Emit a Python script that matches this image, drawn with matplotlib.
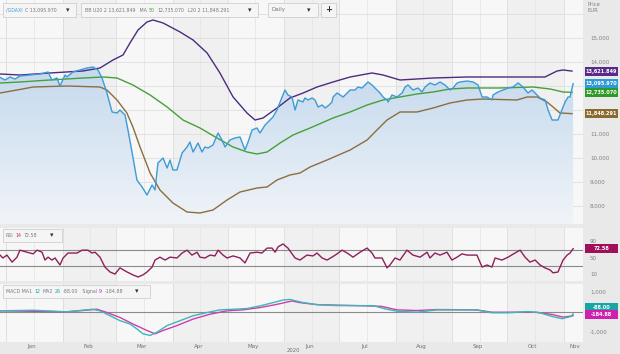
import matplotlib
matplotlib.use('Agg')
import matplotlib.pyplot as plt
import numpy as np
from matplotlib.patches import Polygon, Rectangle
from matplotlib.colors import LinearSegmentedColormap
from matplotlib.transforms import blended_transform_factory

W, H = 620, 354

# x values are days since 1 Jan 2020
price_day = [-3.5, -0.8, 2.0, 4.7, 7.4, 12.9, 18.4, 22.8, 24.9, 27.7, 29.3, 32.1, 33.1, 36.4,
             40.3, 44.1, 47.4, 50.1, 52.3, 55.0, 57.8, 60.5, 62.1, 64.9, 66.5, 69.2, 71.4, 74.2,
             76.9, 79.7, 81.3, 82.9, 85.7, 87.9, 89.5, 91.1, 93.3, 96.1, 98.8, 100.4, 102.1,
             104.8, 107.0, 108.6, 110.3, 113.0, 115.8, 117.9, 119.6, 122.3, 125.0, 127.8, 130.5,
             132.2, 134.4, 137.1, 138.7, 141.5, 144.2, 145.8, 148.0, 150.8, 152.4, 154.0, 156.2,
             157.9, 159.5, 162.2, 163.3, 165.0, 167.2, 168.8, 170.5, 172.7, 174.4, 176.5, 178.1,
             178.7, 180.9, 182.6, 184.2, 186.4, 188.0, 190.7, 192.3, 194.5, 196.2, 197.8, 200.0,
             201.6, 204.4, 206.0, 208.2, 208.8, 210.9, 213.7, 216.4, 218.1, 219.7, 222.4, 225.2,
             227.3, 229.0, 231.7, 234.4, 237.2, 239.9, 242.7, 244.3, 246.5, 248.2, 252.0, 255.3,
             258.0, 260.2, 262.9, 265.6, 266.2, 268.9, 271.6, 274.4, 277.1, 279.9, 282.6, 285.3,
             287.5, 290.3, 291.9, 294.7, 296.3, 298.5, 300.1, 301.7, 303.9, 305.6, 307.2, 308.3,
             310.0]
price_val = [13360, 13250, 13375, 13290, 13417, 13458, 13500, 13583, 13250, 13333, 13000, 13458,
             13375, 13583, 13667, 13750, 13792, 13667, 13333, 12708, 11917, 11875, 12000, 11792,
             11167, 10042, 9083, 8792, 8458, 8875, 8667, 9792, 10000, 9583, 9917, 9500, 9500,
             10208, 10458, 10667, 10250, 10625, 10250, 10458, 10417, 10542, 11042, 10750, 10458,
             10750, 10833, 10875, 10333, 10667, 11167, 11250, 11042, 11375, 11583, 11708, 12000,
             12542, 12833, 12625, 12542, 12000, 12417, 12333, 12500, 12417, 12500, 12417, 12125,
             12208, 12083, 12208, 12333, 12542, 12708, 12625, 12542, 12708, 12833, 12833, 12958,
             12917, 13042, 13167, 13042, 12917, 12708, 12542, 12417, 12333, 12625, 12542, 12708,
             12958, 13042, 12833, 12917, 12750, 12958, 13125, 13042, 13167, 13042, 12833, 12917,
             13125, 13167, 13208, 13167, 13042, 12542, 12542, 12417, 12625, 12750, 12833, 12917,
             12958, 13125, 12958, 12708, 12833, 12625, 12500, 12417, 12000, 11583, 11583, 11583,
             12000, 12333, 12542, 12542, 13096]

upper_day = [-3.5, 7.4, 23.8, 41.9, 51.2, 58.3, 63.8, 67.6, 72.0, 76.9, 80.2, 85.7, 95.0, 102.1,
             109.8, 116.8, 124.0, 131.6, 136.0, 140.4, 148.0, 155.1, 162.3, 169.9, 178.7, 188.0,
             200.0, 206.0, 215.3, 224.6, 233.4, 252.0, 270.0, 288.1, 294.6, 301.2, 304.5, 309.4]
upper_val = [13500, 13458, 13542, 13625, 13750, 14083, 14292, 14792, 15333, 15667, 15750, 15625,
             15250, 14917, 14375, 13542, 12542, 11875, 11583, 11667, 12083, 12500, 12708, 12958,
             13167, 13375, 13542, 13458, 13250, 13292, 13333, 13375, 13375, 13375, 13375, 13625,
             13667, 13622]

ma_day = [-3.5, 7.4, 23.8, 41.9, 52.8, 60.5, 69.2, 78.6, 87.9, 96.6, 105.9, 115.2, 124.0, 131.6,
          137.1, 142.6, 149.7, 156.8, 166.1, 169.9, 178.7, 188.0, 197.3, 206.0, 215.3, 224.6,
          233.4, 242.7, 252.0, 270.0, 288.1, 297.4, 304.5, 309.4]
ma_val = [13125, 13167, 13250, 13333, 13375, 13333, 13042, 12625, 12125, 11583, 11250, 10833,
          10458, 10250, 10167, 10250, 10625, 10958, 11250, 11375, 11667, 11917, 12208, 12417,
          12542, 12667, 12750, 12875, 12917, 12917, 12958, 12875, 12750, 12735]

lower_day = [-3.5, 5.8, 14.6, 33.1, 51.2, 55.0, 60.5, 65.9, 69.2, 73.1, 78.6, 84.0, 91.1, 98.8,
             105.9, 113.0, 120.7, 127.8, 137.1, 142.6, 148.0, 155.1, 160.6, 166.1, 175.4, 188.0,
             197.3, 202.7, 208.2, 215.3, 224.6, 233.4, 242.7, 252.0, 260.7, 279.3, 284.8, 290.3,
             295.7, 299.0, 302.8, 309.4]
lower_val = [12708, 12833, 12958, 13000, 12958, 12833, 12417, 11875, 11292, 10458, 9375, 8667,
             8125, 7750, 7708, 7833, 8250, 8583, 8750, 8792, 9083, 9292, 9375, 9625, 9917, 10333,
             10750, 11167, 11583, 11917, 11917, 12083, 12292, 12417, 12458, 12417, 12542, 12542,
             12333, 12125, 11875, 11848]

rsi_day = [-3.5, -1.9, 0.3, 3.1, 5.8, 7.4, 11.3, 14.6, 16.8, 19.5, 21.1, 22.8, 24.9, 26.6, 29.3,
           31.0, 33.7, 38.6, 41.4, 44.6, 46.8, 48.5, 51.2, 53.9, 56.7, 59.4, 62.1, 66.0, 69.2,
           72.0, 74.7, 76.9, 79.7, 81.3, 84.0, 86.8, 89.5, 93.3, 96.1, 98.8, 101.5, 104.3, 105.9,
           108.6, 111.4, 114.1, 115.8, 118.5, 120.7, 124.0, 127.8, 130.5, 133.3, 137.1, 139.8,
           142.6, 145.3, 147.0, 148.6, 151.3, 154.0, 157.9, 160.6, 164.4, 167.7, 169.9, 172.7,
           175.4, 178.1, 180.9, 183.6, 186.4, 189.6, 193.4, 197.3, 200.0, 201.6, 205.5, 208.2,
           209.8, 212.6, 215.3, 219.1, 222.4, 226.3, 230.1, 231.7, 234.4, 237.2, 241.0, 243.7,
           246.5, 249.2, 252.0, 257.4, 260.2, 262.9, 265.6, 267.3, 271.1, 274.4, 278.2, 281.0,
           283.7, 286.4, 289.2, 291.9, 294.6, 297.4, 299.0, 301.7, 304.5, 306.7, 308.3, 310.0]
rsi_val = [57, 50, 57, 40, 52, 69, 64, 60, 69, 64, 45, 52, 45, 50, 33, 50, 62, 62, 69, 69, 62, 64,
           52, 28, 16, 11, 26, 16, 9, 4, 9, 16, 28, 45, 52, 45, 52, 50, 62, 69, 57, 64, 52, 50,
           57, 55, 69, 57, 50, 55, 50, 38, 62, 64, 62, 74, 74, 64, 77, 84, 74, 50, 45, 57, 55, 62,
           50, 45, 52, 60, 69, 62, 52, 64, 74, 62, 50, 50, 26, 33, 50, 45, 69, 57, 52, 64, 50, 62,
           57, 64, 45, 52, 60, 57, 57, 28, 33, 28, 50, 45, 52, 62, 69, 52, 40, 45, 33, 26, 21, 14,
           16, 45, 57, 62, 72.58]

macd_day = [-3.5, 14.6, 33.1, 47.4, 51.2, 56.7, 62.1, 67.6, 71.4, 74.7, 78.6, 82.4, 87.9, 95.0,
            102.1, 109.8, 116.8, 124.0, 131.6, 138.7, 145.8, 151.3, 155.1, 161.7, 169.9, 180.9,
            191.8, 200.6, 207.1, 213.7, 224.6, 235.6, 245.9, 256.9, 265.6, 274.4, 285.3, 291.9,
            298.5, 303.9, 308.9, 310.0]
macd_val = [59, 88, 10, 137, 59, -185, -429, -595, -839, -1083, -1161, -1000, -673, -429, -185,
            -24, 107, 137, 171, 303, 464, 595, 625, 478, 366, 317, 317, 317, 156, 39, -10, 107,
            107, 107, -39, -39, 24, -39, -220, -332, -220, -88]

signal_day = [-3.5, 33.1, 49.6, 55.0, 62.1, 69.2, 76.9, 81.3, 85.7, 93.3, 102.1, 111.4, 120.7,
              129.4, 138.7, 148.0, 156.2, 160.6, 169.9, 191.8, 205.0, 213.7, 224.6, 235.6, 256.9,
              265.6, 278.7, 289.7, 298.5, 304.5, 310.0]
signal_val = [59, 10, 137, -24, -268, -595, -917, -1083, -917, -673, -351, -107, 59, 107, 220,
              381, 547, 464, 366, 317, 283, 107, 73, 122, 107, -10, -10, -10, -122, -254, -185]

month_names = ['Jan', 'Feb', 'Mar', 'Apr', 'May', 'Jun', 'Jul', 'Aug', 'Sep', 'Oct', 'Nov']
month_label_day = [14, 45, 74, 105, 135, 166, 196, 227, 258, 288, 311]
month_start_day = [0, 31, 60, 91, 121, 152, 182, 213, 244, 274, 305]

price_ticks = [8000, 9000, 10000, 11000, 14000, 15000]
price_grid = [8000, 9000, 10000, 11000, 12000, 13000, 14000, 15000, 16000]
rsi_ticks = [10, 50, 90]
rsi_levels = [30, 70]
macd_ticks = [-1000, 1000]

c_price = '#3d9bd6'
c_upper = '#4b2c80'
c_ma = '#45a03a'
c_lower = '#8c6d3f'
c_rsi = '#8e1f5a'
c_macd = '#3fb5b5'
c_signal = '#cc3fb0'


def fx(x):
    return x / W


def fy(y):
    return 1 - y / H


fig = plt.figure(figsize=(6.2, 3.54), dpi=100, facecolor='#e9e9e9')
renderer = fig.canvas.get_renderer()


def panel(top, bottom):
    return fig.add_axes([0, fy(bottom), 583 / W, (bottom - top) / H])


ax = panel(0, 224)
ax_rsi = panel(228, 281)
ax_macd = panel(284, 342)

xlim = (-3.5, 315.4)
ylim_price = (7250, 16583)
ax.set_ylim(*ylim_price)
ax_rsi.set_ylim(-5.8, 122.7)
ax_macd.set_ylim(-1488, 1390)

for a in (ax, ax_rsi, ax_macd):
    a.set_facecolor('#f7f7f7')
    for i, d in enumerate(month_start_day):
        if i % 2 == 1:
            end = month_start_day[i + 1] if i + 1 < len(month_start_day) else xlim[1]
            a.axvspan(d, end, color='#f0f0f0', lw=0, zorder=0)
    for d in month_start_day:
        a.axvline(d, color='#dcdcdc', lw=0.6, zorder=0.5)
        a.axvline(d + 15, color='#e4e4e4', lw=0.5, zorder=0.5)
    a.set_xlim(*xlim)
    a.set_xticks([])
    a.yaxis.tick_right()
    a.tick_params(axis='y', length=0, labelsize=4.0, labelcolor='#808080', pad=5)
    for s in a.spines.values():
        s.set_visible(False)

# price panel
ax.set_yticks(price_ticks)
ax.set_yticklabels(['{:,}'.format(v) for v in price_ticks])
for v in price_grid:
    ax.axhline(v, color='#dedede', lw=0.6, zorder=0.5)

poly = np.column_stack([[price_day[0]] + price_day + [price_day[-1]],
                        [ylim_price[0]] + price_val + [ylim_price[0]]])
patch = Polygon(poly, closed=True, fc='none', ec='none')
ax.add_patch(patch)
cmap = LinearSegmentedColormap.from_list('fill', ['#f0f4f8', '#c4d9ed'])
grad = np.linspace(0, 1, 256).reshape(-1, 1)
im = ax.imshow(grad, extent=[xlim[0], xlim[1], ylim_price[0], 13900], origin='lower',
               cmap=cmap, aspect='auto', zorder=1)
im.set_clip_path(patch)
ax.set_xlim(*xlim)
ax.set_ylim(*ylim_price)

ax.plot(upper_day, upper_val, color=c_upper, lw=1.0, zorder=3)
ax.plot(ma_day, ma_val, color=c_ma, lw=1.0, zorder=3)
ax.plot(lower_day, lower_val, color=c_lower, lw=1.0, zorder=3)
ax.plot(price_day, price_val, color=c_price, lw=1.0, zorder=4)

# rsi panel
ax_rsi.set_yticks(rsi_ticks)
ax_rsi.set_yticklabels([str(v) for v in rsi_ticks])
for v in rsi_levels:
    ax_rsi.axhline(v, color='#8a8a8a', lw=0.8, zorder=2)
ax_rsi.plot(rsi_day, rsi_val, color=c_rsi, lw=1.0, zorder=3)

# macd panel
ax_macd.set_yticks(macd_ticks)
ax_macd.set_yticklabels(['{:,}'.format(v) for v in macd_ticks])
ax_macd.axhline(0, color='#8a8a8a', lw=0.8, zorder=2)
ax_macd.plot(signal_day, signal_val, color=c_signal, lw=1.0, zorder=3)
ax_macd.plot(macd_day, macd_val, color=c_macd, lw=1.0, zorder=3)


def tag(a, value, text, color, dy=0):
    ypix = a.transData.transform((0, value))[1]
    yy = H - ypix + dy
    fig.patches.append(Rectangle((fx(585), fy(yy + 4.5)), 33 / W, 9 / H, transform=fig.transFigure,
                                 fc=color, ec='none', zorder=5))
    fig.text(fx(601.5), fy(yy), text, color='white', fontsize=3.6, fontweight='bold',
             ha='center', va='center', zorder=6)


tag(ax, 13621.849, '13,621.849', '#5a2a8a')
tag(ax, 13095.970, '13,095.970', '#2f9ad8')
tag(ax, 12735.070, '12,735.070', '#2f9a2a', dy=0.5)
tag(ax, 11848.291, '11,848.291', '#8a6a2e')
tag(ax_rsi, 72.58, '72.58', '#a0105a')
tag(ax_macd, -88.00, '-88.00', '#1aa5a5', dy=-6)
tag(ax_macd, -184.88, '-184.88', '#d020b0', dy=-1)

fig.text(fx(588), fy(4), 'Price', fontsize=3.8, color='#808080', va='center')
fig.text(fx(588), fy(11), 'EUR', fontsize=3.8, color='#808080', va='center')

# month labels
bt = blended_transform_factory(ax_macd.transData, ax_macd.transAxes)
for name, d in zip(month_names, month_label_day):
    ax_macd.text(d, -0.07, name, transform=bt, ha='center', va='center', fontsize=4.0,
                 color='#707070', clip_on=False)
ax_macd.text(156.8, -0.155, '2020', transform=bt, ha='center', va='center', fontsize=3.8,
             color='#707070', clip_on=False)


# toolbar boxes
def box(x0, y0, x1, y1):
    fig.patches.append(Rectangle((fx(x0), fy(y1)), (x1 - x0) / W, (y1 - y0) / H,
                                 transform=fig.transFigure, fc='#f5f5f5', ec='#c8c8c8', lw=0.5,
                                 zorder=7))


def run(x, y, parts, size=3.4, gap=2.2):
    for s, color in parts:
        t = fig.text(fx(x), fy(y), s, fontsize=size, color=color, va='center', zorder=8)
        x = t.get_window_extent(renderer).x1 + gap


def arrow(x, y):
    fig.text(fx(x), fy(y), '\u25BE', fontsize=5, color='#333333', va='center', ha='center', zorder=8)


grey = '#7a7a7a'
box(3, 3, 76, 17)
run(6, 10, [('/GDAXI', '#3d9bd6'), ('C 13,095.970', grey)])
arrow(68, 10)
box(81, 3, 258, 17)
run(85, 10, [('BB U20 2 13,621.849', grey), (' MA', grey), ('50', '#45a03a'),
             ('12,735.070', grey), (' L20 2 11,848.291', grey)])
arrow(250, 10)
box(268, 3, 318, 17)
run(272, 10, [('Daily', grey)], size=4.0)
arrow(309, 10)
box(321, 3, 336, 17)
fig.text(fx(328.5), fy(10), '+', fontsize=6, color='#333333', va='center', ha='center',
         fontweight='bold', zorder=8)

box(3, 229, 62, 242)
run(6, 235.5, [('RSI', grey), ('14', '#c03070'), ('72.58', grey)])
arrow(52, 235.5)

box(3, 285, 150, 298)
run(6, 291.5, [('MACD MA1', grey), ('12', '#1aa5a5'), ('MA2', grey), ('26', '#1aa5a5'),
               ('-88.00', grey), (' Signal', grey), ('9', '#d020b0'), ('-184.88', grey)])
arrow(137, 291.5)

plt.savefig('out.png', dpi=100, facecolor=fig.get_facecolor())
